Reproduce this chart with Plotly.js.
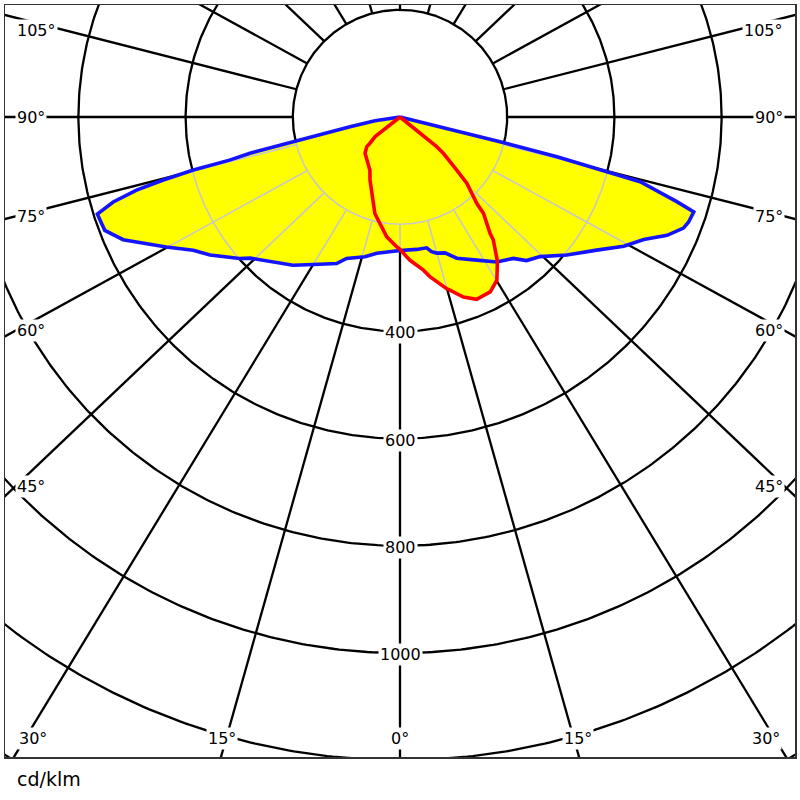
<!DOCTYPE html>
<html><head><meta charset="utf-8">
<script src="https://cdn.plot.ly/plotly-3.0.1.min.js"></script>
<style>html,body{margin:0;padding:0;background:#fff}#chart{width:800px;height:800px}</style>
</head><body><div id="chart"></div>
<script>
// ---- Luminous intensity data (cd/klm), gamma in degrees from nadir ----
// C0 plane (right half, blue)
const c0Gamma = [0, 7.2, 11.5, 13.2, 15.1, 18.3, 21.9, 28.2, 33.7, 38.7, 41.4, 45.1, 50.4, 55.9, 60.0, 63.3, 66.1, 68.6, 70.0, 72.1, 73.0, 74.9, 75.2, 75.8, 76.1, 76.5, 90];
const c0Value = [249, 249, 249, 258, 263, 267, 284, 303, 325, 338, 357, 369, 404, 443, 482, 509, 545, 568, 573, 576, 540, 464, 399, 302, 192, 96, 0];
// C180 plane (left half, blue)
const c180Gamma = [0, 9.7, 14.1, 20.7, 23.4, 30.4, 35.8, 42.8, 46.7, 48.6, 54.0, 57.2, 60.9, 66.1, 69.0, 72.2, 73.5, 74.5, 75.1, 75.6, 75.8, 76.4, 77.0, 79.0, 81.6, 90];
const c180Value = [249, 258, 269, 282, 298, 319, 341, 366, 384, 399, 438, 459, 499, 565, 590, 593, 558, 510, 457, 398, 328, 288, 205, 95, 47, 0];
// C90 plane (right half, red)
const c90Gamma = [0, 2.7, 4.0, 8.7, 10.6, 15.2, 16.1, 19.4, 21.1, 22.8, 27.3, 30.7, 34.0, 37.2, 37.7, 40.9, 41.6, 45.2, 46.9, 50.0, 51.0, 52.1, 90];
const c90Value = [247, 261, 268, 289, 303, 332, 336, 356, 363, 369, 367, 354, 325, 288, 275, 238, 216, 176, 145, 106, 88, 40, 0];
// C270 plane (left half, red)
const c270Gamma = [0, 1.5, 6.3, 11.9, 14.6, 17.8, 21.2, 25.5, 29.5, 34.6, 38.9, 43.9, 48.3, 48.8, 51.8, 52.1, 90];
const c270Value = [247, 242, 225, 197, 186, 163, 146, 130, 114, 104, 99, 94, 83, 75, 59, 40, 0];

// ---- Grid / labels ----
const gridRadii = [200, 400, 600, 800, 1000, 1200, 1400];
const radialLabels = [400, 600, 800, 1000];
const spokeAngles = [];
for (let a = 0; a < 360; a += 15) spokeAngles.push(a);
const sideLabels = ['105°', '90°', '75°', '60°', '45°'];
const sideLabelY = [31, 117, 216.5, 331, 486];          // pixel rows
const bottomLabels = ['30°', '15°', '0°', '15°', '30°'];
const bottomLabelX = [33, 222, 400, 578, 766];          // pixel columns
const unitLabel = 'cd/klm';

// ---- Geometry ----
const K = 0.536;             // px per cd/klm
const CX = 400, CY = 117;    // pixel position of the origin
const BOX = {l: 5, r: 795, t: 5, b: 757};
const SPOKE_IN = 200, SPOKE_OUT = 1400, SPOKE_STRETCH = 1.045;
const D = Math.PI / 180;

function pt(g, v, side) { return [side * v * Math.sin(g * D), -v * Math.cos(g * D)]; }
function closedCurve(gL, vL, gR, vR) {
  const x = [], y = [];
  for (let i = gL.length - 1; i >= 0; i--) { const p = pt(gL[i], vL[i], -1); x.push(p[0]); y.push(p[1]); }
  for (let i = 0; i < gR.length; i++) { const p = pt(gR[i], vR[i], 1); x.push(p[0]); y.push(p[1]); }
  return {x, y};
}
const blue = closedCurve(c180Gamma, c180Value, c0Gamma, c0Value);
const red = closedCurve(c270Gamma, c270Value, c90Gamma, c90Value);

function inside(px, py, poly) {
  let c = false; const X = poly.x, Y = poly.y, n = X.length;
  for (let i = 0, j = n - 1; i < n; j = i++) {
    if (((Y[i] > py) !== (Y[j] > py)) && (px < (X[j] - X[i]) * (py - Y[i]) / (Y[j] - Y[i]) + X[i])) c = !c;
  }
  return c;
}
function inFill(x, y) { return inside(x, y, blue) || inside(x, y, red); }

function spokePoint(th, t) {
  const s = Math.sin(th * D), c = Math.cos(th * D);
  const x0 = SPOKE_IN * s, y0 = -SPOKE_IN * c;
  const x1 = SPOKE_STRETCH * SPOKE_OUT * s, y1 = -SPOKE_OUT * c;
  return [x0 + (x1 - x0) * t, y0 + (y1 - y0) * t];
}

// black grid
const gx = [], gy = [];
gridRadii.forEach(r => {
  for (let a = 0; a <= 360; a += 0.5) { gx.push(r * Math.sin(a * D)); gy.push(-r * Math.cos(a * D)); }
  gx.push(null); gy.push(null);
});
spokeAngles.forEach(th => {
  const p0 = spokePoint(th, 0), p1 = spokePoint(th, 1);
  gx.push(p0[0], p1[0], null); gy.push(p0[1], p1[1], null);
});

// grey grid inside the filled area
const sx = [], sy = [];
function addSampled(points) {
  let open = false;
  points.forEach(p => {
    if (inFill(p[0], p[1])) { sx.push(p[0]); sy.push(p[1]); open = true; }
    else if (open) { sx.push(null); sy.push(null); open = false; }
  });
  if (open) { sx.push(null); sy.push(null); }
}
gridRadii.forEach(r => {
  const pts = [];
  for (let a = 0; a <= 360; a += 0.2) pts.push([r * Math.sin(a * D), -r * Math.cos(a * D)]);
  addSampled(pts);
});
spokeAngles.forEach(th => {
  const pts = [];
  for (let t = 0; t <= 0.6; t += 0.001) pts.push(spokePoint(th, t));
  addSampled(pts);
});

const traces = [
  {x: gx, y: gy, mode: 'lines', line: {color: '#000', width: 2.3}, hoverinfo: 'skip'},
  {x: blue.x, y: blue.y, mode: 'lines', fill: 'toself', fillcolor: '#ffff00', line: {width: 0, color: 'rgba(0,0,0,0)'}, hoverinfo: 'skip'},
  {x: red.x, y: red.y, mode: 'lines', fill: 'toself', fillcolor: '#ffff00', line: {width: 0, color: 'rgba(0,0,0,0)'}, hoverinfo: 'skip'},
  {x: sx, y: sy, mode: 'lines', line: {color: '#c8c8c8', width: 1.6}, hoverinfo: 'skip'},
  {x: blue.x, y: blue.y, mode: 'lines', line: {color: '#1414ff', width: 3.6}, name: 'C0-C180'},
  {x: red.x, y: red.y, mode: 'lines', line: {color: '#ff0000', width: 3.6}, name: 'C90-C270'}
];

const font = {family: 'DejaVu Sans, Verdana, sans-serif', size: 16, color: '#000'};
const W = BOX.r - BOX.l, H = BOX.b - BOX.t;
const xp = px => (px - BOX.l) / W;
const yp = py => (BOX.b - py) / H;
const ann = [];
sideLabels.forEach((t, i) => {
  ann.push({text: t, xref: 'paper', yref: 'paper', x: xp(15), y: yp(sideLabelY[i]), xanchor: 'left', yanchor: 'middle', showarrow: false, bgcolor: '#fff', borderpad: 1, font});
  ann.push({text: t, xref: 'paper', yref: 'paper', x: xp(785), y: yp(sideLabelY[i]), xanchor: 'right', yanchor: 'middle', showarrow: false, bgcolor: '#fff', borderpad: 1, font});
});
bottomLabels.forEach((t, i) => {
  ann.push({text: t, xref: 'paper', yref: 'paper', x: xp(bottomLabelX[i]), y: yp(738.5), xanchor: 'center', yanchor: 'middle', showarrow: false, bgcolor: '#fff', borderpad: 1, font});
});
radialLabels.forEach(r => {
  ann.push({text: String(r), xref: 'x', yref: 'y', x: 0, y: -r, xanchor: 'center', yanchor: 'middle', yshift: -1.5, showarrow: false, bgcolor: '#fff', borderpad: 1, font});
});
ann.push({text: unitLabel, xref: 'paper', yref: 'paper', x: xp(15), y: yp(779), xanchor: 'left', yanchor: 'middle', showarrow: false, font: {family: font.family, size: 19, color: '#000'}});

const layout = {
  width: 800, height: 800,
  margin: {l: BOX.l, r: 800 - BOX.r, t: BOX.t, b: 800 - BOX.b, pad: 0},
  paper_bgcolor: '#fff', plot_bgcolor: '#fff',
  showlegend: false,
  xaxis: {range: [(BOX.l - CX) / K, (BOX.r - CX) / K], showgrid: false, zeroline: false, showticklabels: false, ticks: '', showline: true, mirror: true, linecolor: '#333', linewidth: 1.5, fixedrange: true},
  yaxis: {range: [(CY - BOX.b) / K, (CY - BOX.t) / K], showgrid: false, zeroline: false, showticklabels: false, ticks: '', showline: true, mirror: true, linecolor: '#333', linewidth: 1.5, fixedrange: true},
  annotations: ann
};
Plotly.newPlot('chart', traces, layout, {displayModeBar: false, staticPlot: true});
</script></body></html>
